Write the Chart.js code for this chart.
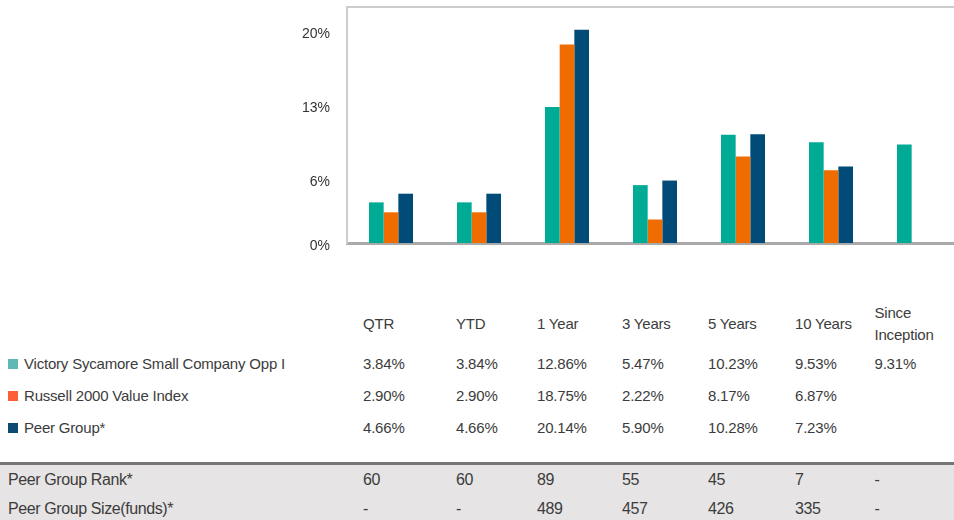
<!DOCTYPE html>
<html>
<head>
<meta charset="utf-8">
<script src="https://cdn.jsdelivr.net/npm/chart.js@4"></script>
<style>
  html, body { margin: 0; padding: 0; overflow: hidden; background: #fff; }
  body { width: 954px; height: 520px; position: relative; font-family: "Liberation Sans", Arial, sans-serif; color: #3c3c3c; }
  #chartBox { position: absolute; left: 0; top: 0; width: 963px; height: 252px; }
  #perf { position: absolute; left: 0; top: 301px; width: 954px; border-collapse: collapse; table-layout: fixed; font-size: 15px; letter-spacing: -0.2px; }
  #perf td { padding: 0; white-space: nowrap; vertical-align: middle; }
  #perf tr.head td { height: 46px; line-height: 22px; }
  #perf tr.row td { height: 32px; }
  #perf tr.gap td { height: 19px; }
  #perf tr.band td { background: #e6e4e4; height: 29px; font-size: 16px; letter-spacing: -0.4px; }
  #perf tr.band.first td { border-top: 3px solid #767676; }
  #perf td.lbl { padding-left: 8px; }
  .sw { display: inline-block; width: 10px; height: 10px; margin-right: 6px; }
</style>
</head>
<body>
<div id="chartBox"><canvas id="myChart"></canvas></div>
<table id="perf">
  <colgroup>
    <col style="width:363px"><col style="width:93px"><col style="width:81px"><col style="width:85px">
    <col style="width:86px"><col style="width:87px"><col>
  </colgroup>
  <tbody id="perfBody"></tbody>
</table>
<script>
const periods = ['QTR', 'YTD', '1 Year', '3 Years', '5 Years', '10 Years', 'Since Inception'];
const fundName = 'Victory Sycamore Small Company Opp I';
const indexName = 'Russell 2000 Value Index';
const peerName = 'Peer Group*';
const fundValues = [3.84, 3.84, 12.86, 5.47, 10.23, 9.53, 9.31];
const indexValues = [2.90, 2.90, 18.75, 2.22, 8.17, 6.87, null];
const peerValues = [4.66, 4.66, 20.14, 5.90, 10.28, 7.23, null];
const peerRank = ['60', '60', '89', '55', '45', '7', '-'];
const peerSize = ['-', '-', '489', '457', '426', '335', '-'];
const yTicks = [0, 6, 13, 20];

const barColors = ['#00ab96', '#ef6c00', '#004b78'];
const legendColors = ['#5fb8b3', '#ff5c38', '#0d4a72'];

// table under the chart
const body = document.getElementById('perfBody');
function addRow(cls, cells) {
  const tr = document.createElement('tr');
  tr.className = cls;
  cells.forEach((c, i) => {
    const td = document.createElement('td');
    if (i === 0) td.className = 'lbl';
    td.innerHTML = c;
    tr.appendChild(td);
  });
  body.appendChild(tr);
}
const fmt = v => v === null ? '' : v.toFixed(2) + '%';
addRow('head', [''].concat(periods.map(p => p === 'Since Inception' ? 'Since<br>Inception' : p)));
[[fundName, fundValues], [indexName, indexValues], [peerName, peerValues]].forEach(([name, vals], i) => {
  addRow('row', ['<span class="sw" style="background:' + legendColors[i] + '"></span>' + name].concat(vals.map(fmt)));
});
addRow('gap', ['', '', '', '', '', '', '', '']);
addRow('band first', ['Peer Group Rank*'].concat(peerRank));
addRow('band', ['Peer Group Size(funds)*'].concat(peerSize));

// chart
const ctx = document.getElementById('myChart').getContext('2d');
const myChart = new Chart(ctx, {
  type: 'bar',
  data: {
    labels: periods,
    datasets: [
      { label: fundName, data: fundValues, backgroundColor: barColors[0] },
      { label: indexName, data: indexValues, backgroundColor: barColors[1] },
      { label: peerName, data: peerValues, backgroundColor: barColors[2] }
    ]
  },
  options: {
    responsive: true,
    maintainAspectRatio: false,
    animation: false,
    categoryPercentage: 0.5,
    barPercentage: 1.0,
    layout: { padding: { top: 7, bottom: 9, left: 0, right: 0 } },
    plugins: { legend: { display: false }, tooltip: { enabled: false } },
    scales: {
      x: {
        grid: { display: false },
        ticks: { display: false },
        afterFit: scale => { scale.height = 0; },
        border: { color: '#aaaaaa', width: 3 }
      },
      xTop: {
        type: 'category',
        position: 'top',
        labels: periods,
        grid: { display: false },
        ticks: { display: false },
        afterFit: scale => { scale.height = 0; },
        border: { color: '#cccccc', width: 2 }
      },
      y: {
        min: 0,
        max: 22.3,
        afterBuildTicks: scale => { scale.ticks = yTicks.map(v => ({ value: v })); },
        afterFit: scale => {
          scale.width = 347;
          scale.paddingTop = 0;
          scale.paddingBottom = 0;
        },
        grid: { display: false, drawTicks: false },
        border: { color: '#cccccc', width: 2 },
        ticks: {
          padding: 17,
          labelOffset: 3,
          color: '#333333',
          font: { family: 'Liberation Sans', size: 14 },
          callback: v => v + '%'
        }
      }
    }
  }
});
</script>
</body>
</html>
